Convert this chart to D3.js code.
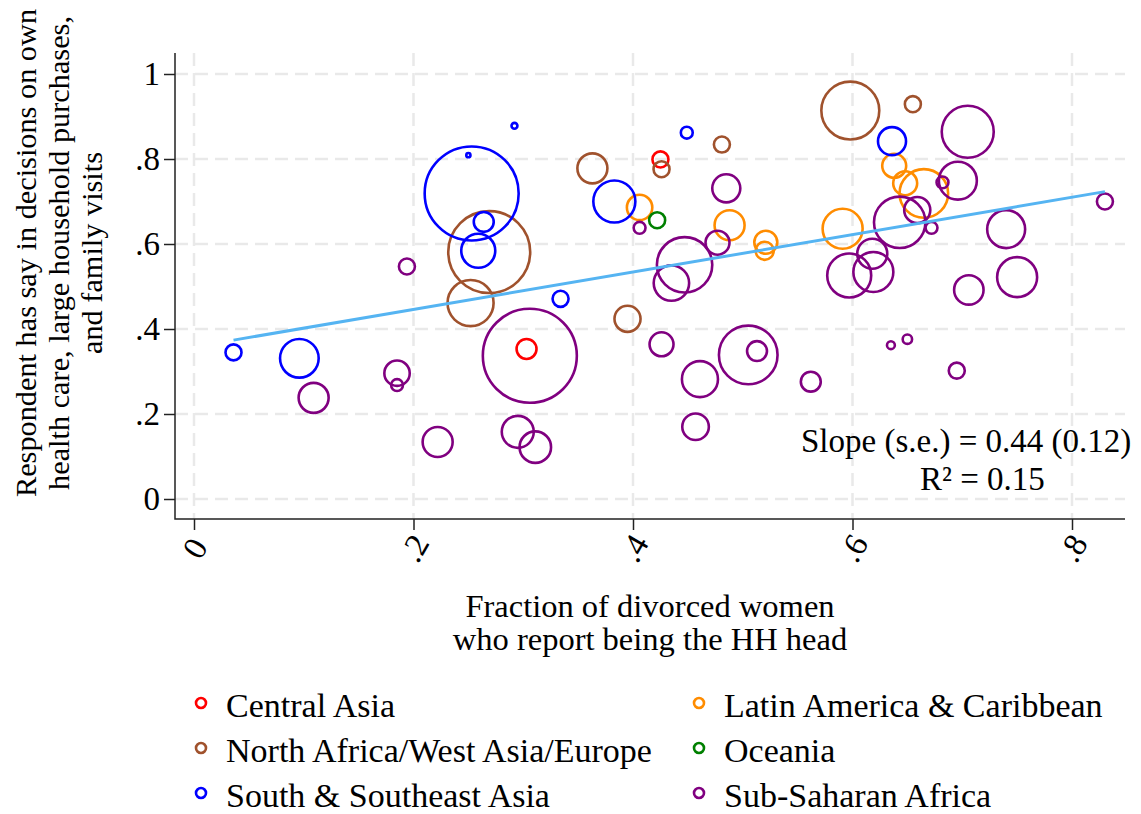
<!DOCTYPE html>
<html>
<head>
<meta charset="utf-8">
<script src="https://cdn.jsdelivr.net/npm/d3@7"></script>
<style>
  body { margin: 0; background: #fff; }
  text { font-family: "Liberation Serif", "Times New Roman", serif; fill: #000; }
</style>
</head>
<body>
<svg width="1141" height="814"></svg>
<script>
// region names, in legend order
const regions = [
    "Central Asia",
    "Latin America & Caribbean",
    "North Africa/West Asia/Europe",
    "Oceania",
    "South & Southeast Asia",
    "Sub-Saharan Africa"
];

// [fraction HH head, has say, weight]
const centralAsia = [
    [0.425, 0.799, 2.9],
    [0.303, 0.353, 4.5]
];
const latinAmericaCaribbean = [
    [0.406, 0.686, 7.3],
    [0.488, 0.644, 10.2],
    [0.521, 0.604, 6.0],
    [0.520, 0.584, 3.7],
    [0.638, 0.784, 6.5],
    [0.648, 0.743, 6.5],
    [0.665, 0.719, 26.7],
    [0.591, 0.636, 18.1]
];
const northAfricaWestAsiaEurope = [
    [0.269, 0.581, 76],
    [0.252, 0.461, 24],
    [0.363, 0.778, 10.2],
    [0.426, 0.776, 2.9],
    [0.481, 0.834, 2.9],
    [0.395, 0.424, 7.7],
    [0.598, 0.914, 38],
    [0.655, 0.929, 2.9]
];
const oceania = [
    [0.422, 0.656, 2.9]
];
const southSoutheastAsia = [
    [0.253, 0.719, 100],
    [0.250, 0.809, 0.2],
    [0.264, 0.652, 4.5],
    [0.259, 0.584, 13.1],
    [0.292, 0.878, 0.4],
    [0.383, 0.700, 20],
    [0.449, 0.862, 1.6],
    [0.334, 0.471, 2.9],
    [0.636, 0.842, 8.9],
    [0.036, 0.345, 2.9],
    [0.096, 0.331, 16.9]
];
const subSaharanAfrica = [
    [0.194, 0.547, 2.9],
    [0.406, 0.638, 1.6],
    [0.485, 0.731, 8.9],
    [0.477, 0.603, 6.5],
    [0.447, 0.551, 34.7],
    [0.435, 0.508, 14.2],
    [0.682, 0.745, 1.6],
    [0.696, 0.749, 16.3],
    [0.705, 0.864, 30.6],
    [0.659, 0.680, 7.7],
    [0.643, 0.651, 29.9],
    [0.672, 0.638, 1.6],
    [0.740, 0.635, 16.3],
    [0.830, 0.700, 2.9],
    [0.618, 0.577, 10.2],
    [0.597, 0.526, 21.9],
    [0.619, 0.534, 18.1],
    [0.706, 0.492, 9.8],
    [0.750, 0.522, 18.1],
    [0.109, 0.238, 10.2],
    [0.185, 0.296, 7.3],
    [0.185, 0.268, 1.6],
    [0.222, 0.134, 10.2],
    [0.306, 0.337, 100],
    [0.426, 0.364, 6.5],
    [0.461, 0.282, 14.7],
    [0.505, 0.339, 38.9],
    [0.513, 0.348, 4.5],
    [0.457, 0.170, 8.0],
    [0.295, 0.158, 11.6],
    [0.311, 0.122, 11.2],
    [0.562, 0.276, 4.5],
    [0.635, 0.362, 0.7],
    [0.650, 0.376, 1.0],
    [0.695, 0.302, 2.9]
];

const seriesByRegion = [
    centralAsia, latinAmericaCaribbean, northAfricaWestAsiaEurope,
    oceania, southSoutheastAsia, subSaharanAfrica
];

const xTicks = [0, 0.2, 0.4, 0.6, 0.8];
const yTicks = [0, 0.2, 0.4, 0.6, 0.8, 1];

// weighted linear fit reported in the figure
const fitSlope = 0.44;
const fitIntercept = 0.358;
const fitSE = 0.12;
const fitR2 = 0.15;

const yTitle = [
    "Respondent has say in decisions on own",
    "health care, large household purchases,",
    "and family visits"
];
const xTitle = ["Fraction of divorced women", "who report being the HH head"];

// ---- drawing ----
const svg = d3.select("svg");
const colors = ["#ff0000", "#ff8c00", "#a0522d", "#008000", "#0000ff", "#800080"];
const color = d3.scaleOrdinal().domain(regions).range(colors);

const plot = {left: 175, right: 1125, top: 53, bottom: 519};
const x = d3.scaleLinear().domain([0, 0.8]).range([194, 1072]);
const y = d3.scaleLinear().domain([0, 1]).range([499, 74]);
const r = d3.scaleSqrt().domain([0, 100]).range([0, 47]);

const fmt = d => d === 0 ? "0" : d === 1 ? "1" : d3.format(".1f")(d).replace(/^0/, "");

svg.append("rect").attr("width", 1141).attr("height", 814).attr("fill", "#fff");

// grid
const grid = svg.append("g")
    .attr("stroke", "#e9e9e9")
    .attr("stroke-width", 2.5)
    .attr("stroke-dasharray", "13,7");
grid.selectAll(".gy").data(yTicks).join("line")
    .attr("x1", plot.left).attr("x2", plot.right)
    .attr("y1", d => y(d)).attr("y2", d => y(d));
grid.selectAll(".gx").data(xTicks).join("line")
    .attr("y1", plot.top).attr("y2", plot.bottom)
    .attr("x1", d => x(d)).attr("x2", d => x(d));

// axes
const yAxis = svg.append("g")
    .attr("transform", `translate(${plot.left},0)`)
    .call(d3.axisLeft(y).tickValues(yTicks).tickFormat(fmt).tickSize(11).tickPadding(4));
yAxis.select(".domain").remove();
yAxis.selectAll("line").attr("stroke", "#222").attr("stroke-width", 1.5);
yAxis.selectAll("text")
    .style("font-family", "'Liberation Serif', 'Times New Roman', serif")
    .style("font-size", "33px").attr("fill", "#000");

const xAxis = svg.append("g")
    .attr("transform", `translate(0,${plot.bottom})`)
    .call(d3.axisBottom(x).tickValues(xTicks).tickFormat(fmt).tickSize(11));
xAxis.select(".domain").remove();
xAxis.selectAll("line").attr("stroke", "#222").attr("stroke-width", 1.5);
xAxis.selectAll("text")
    .style("font-family", "'Liberation Serif', 'Times New Roman', serif")
    .style("font-size", "33px").attr("fill", "#000")
    .attr("y", 0).attr("dy", "0.35em")
    .attr("text-anchor", "middle")
    .attr("transform", "translate(0,29) rotate(-60)");

svg.append("path")
    .attr("d", `M${plot.left},${plot.top}V${plot.bottom}H${plot.right}`)
    .attr("fill", "none").attr("stroke", "#222").attr("stroke-width", 1.5);

// bubbles
const points = regions.flatMap((name, i) =>
    seriesByRegion[i].map(([fx, fy, w]) => ({name, fx, fy, w})));

svg.append("g").selectAll("circle")
    .data(points)
    .join("circle")
    .attr("cx", d => x(d.fx))
    .attr("cy", d => y(d.fy))
    .attr("r", d => r(d.w))
    .attr("fill", "none")
    .attr("stroke", d => color(d.name))
    .attr("stroke-width", 2.6);

// fitted line
const xExt = d3.extent(points, d => d.fx);
const line = d3.line().x(d => x(d)).y(d => y(fitIntercept + fitSlope * d));
svg.append("path")
    .attr("d", line(xExt))
    .attr("fill", "none")
    .attr("stroke", "#55b4f2")
    .attr("stroke-width", 3);

// fit annotation
svg.append("text").attr("x", 801).attr("y", 452)
    .style("font-size", "33px")
    .text(`Slope (s.e.) = ${fitSlope.toFixed(2)} (${fitSE.toFixed(2)})`);
svg.append("text").attr("x", 920).attr("y", 490)
    .style("font-size", "33px")
    .text(`R² = ${fitR2.toFixed(2)}`);

// axis titles
svg.append("g").attr("transform", "translate(0,253) rotate(-90)")
    .selectAll("text").data(yTitle).join("text")
    .attr("x", 0).attr("y", (d, i) => 36 + i * 33)
    .attr("text-anchor", "middle")
    .style("font-size", "30.3px")
    .text(d => d);

svg.append("g").selectAll("text").data(xTitle).join("text")
    .attr("x", 650).attr("y", (d, i) => 617 + i * 33)
    .attr("text-anchor", "middle")
    .style("font-size", "32.5px")
    .text(d => d);

// legend
const legendOrder = [
    "Central Asia", "North Africa/West Asia/Europe", "South & Southeast Asia",
    "Latin America & Caribbean", "Oceania", "Sub-Saharan Africa"
];
const leg = svg.append("g").selectAll("g").data(legendOrder).join("g")
    .attr("transform", (d, i) => `translate(${i < 3 ? 201 : 699},${703 + (i % 3) * 45})`);
leg.append("circle").attr("r", 5).attr("fill", "none")
    .attr("stroke", d => color(d)).attr("stroke-width", 2.6);
leg.append("text").attr("x", 25).attr("y", 14)
    .style("font-size", "34px")
    .text(d => d);
</script>
</body>
</html>
